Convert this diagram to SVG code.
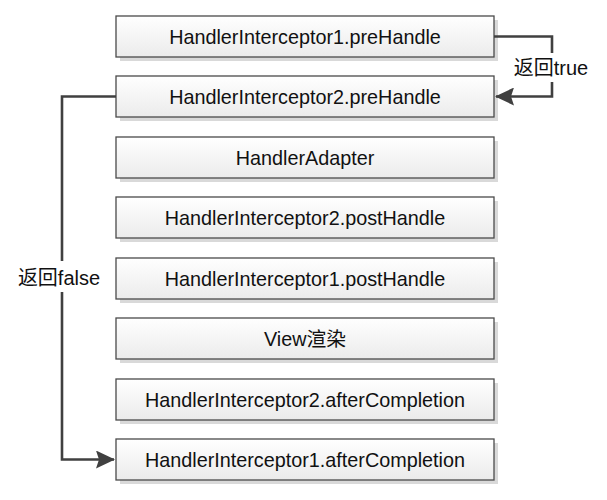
<svg xmlns="http://www.w3.org/2000/svg" width="607" height="500" viewBox="0 0 607 500">
<style>
.box{fill:url(#g);stroke:#4a4a4a;stroke-width:1.3}
.sh{fill:#d9d9d9}
.t{font-family:"Liberation Sans",Arial,sans-serif;font-size:19.8px;fill:#111;text-anchor:middle}
.lbl{font-family:"Liberation Sans","Noto Sans CJK SC",sans-serif;font-size:20px;fill:#111;text-anchor:middle}
.c{fill:none;stroke:#404040;stroke-width:2.6}
</style>
<defs>
<linearGradient id="g" x1="0" y1="0" x2="0" y2="1">
<stop offset="0" stop-color="#ffffff"/>
<stop offset="1" stop-color="#ebebeb"/>
</linearGradient>
<marker id="ah" markerWidth="19" markerHeight="18" refX="18" refY="9" orient="auto" markerUnits="userSpaceOnUse">
<path d="M0,0 L19,9 L0,18 L3,9 Z" fill="#404040"/>
</marker>
</defs>
<rect width="607" height="500" fill="#fff"/>
<g id="n1"><rect class="sh" x="120" y="20" width="378" height="41"/><rect class="box" x="116" y="16" width="378" height="41"/><text class="t" x="305" y="43.5">HandlerInterceptor1.preHandle</text></g>
<g id="n2"><rect class="sh" x="120" y="80" width="378" height="41"/><rect class="box" x="116" y="76" width="378" height="41"/><text class="t" x="305" y="103.5">HandlerInterceptor2.preHandle</text></g>
<g id="n3"><rect class="sh" x="120" y="141" width="378" height="41"/><rect class="box" x="116" y="137" width="378" height="41"/><text class="t" x="305" y="164.5">HandlerAdapter</text></g>
<g id="n4"><rect class="sh" x="120" y="201" width="378" height="41"/><rect class="box" x="116" y="197" width="378" height="41"/><text class="t" x="305" y="224.5">HandlerInterceptor2.postHandle</text></g>
<g id="n5"><rect class="sh" x="120" y="262" width="378" height="41"/><rect class="box" x="116" y="258" width="378" height="41"/><text class="t" x="305" y="285.5">HandlerInterceptor1.postHandle</text></g>
<g id="n6"><rect class="sh" x="120" y="322" width="378" height="41"/><rect class="box" x="116" y="318" width="378" height="41"/><text class="t" x="305" y="345.5" style="font-family:'Liberation Sans','Noto Sans CJK SC',sans-serif">View渲染</text></g>
<g id="n7"><rect class="sh" x="120" y="383" width="378" height="41"/><rect class="box" x="116" y="379" width="378" height="41"/><text class="t" x="305" y="406.5">HandlerInterceptor2.afterCompletion</text></g>
<g id="n8"><rect class="sh" x="120" y="443" width="378" height="41"/><rect class="box" x="116" y="439" width="378" height="41"/><text class="t" x="305" y="466.5">HandlerInterceptor1.afterCompletion</text></g>
<g id="connectors">
<path class="c" d="M494,36.5 H552 V96.5 H496" marker-end="url(#ah)"/>
<rect x="508" y="53" width="86" height="29" fill="#fff"/>
<text class="lbl" x="551" y="75">返回true</text>
<path class="c" d="M116,96.5 H62 V459.5 H114" marker-end="url(#ah)"/>
<rect x="14" y="261" width="92" height="31" fill="#fff"/>
<text class="lbl" x="59" y="285">返回false</text>
</g>
</svg>
